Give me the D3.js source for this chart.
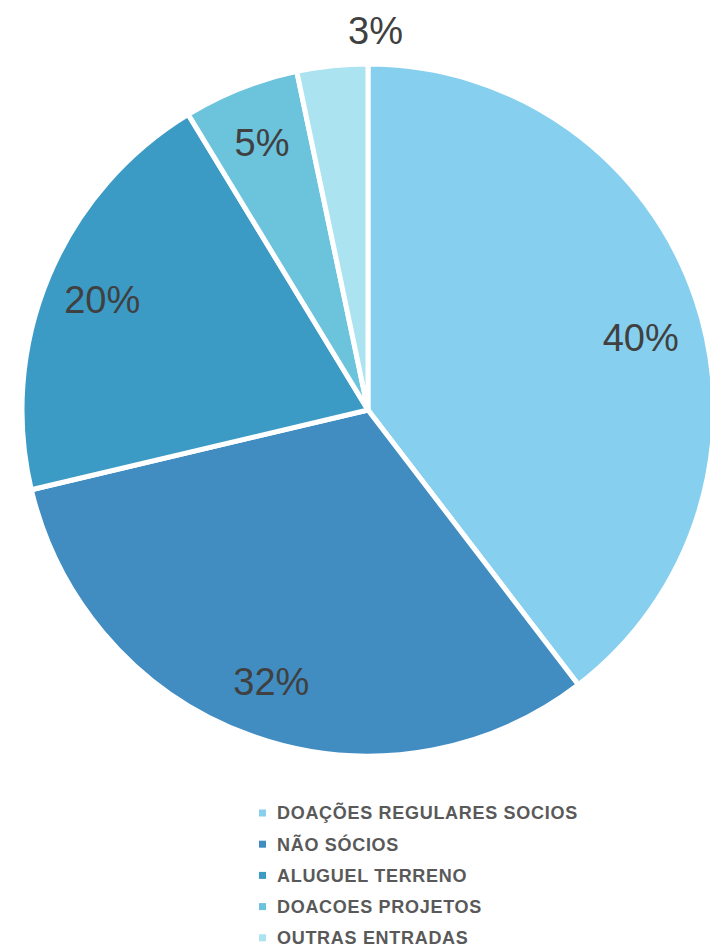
<!DOCTYPE html>
<html>
<head>
<meta charset="utf-8">
<script src="https://cdn.jsdelivr.net/npm/d3@7"></script>
<style>
  body { margin: 0; background: #fff; }
</style>
</head>
<body>
<div id="chart"></div>
<script>
// chart data (shares; labels as printed)
const categories = ["DOAÇÕES REGULARES SOCIOS", "NÃO SÓCIOS", "ALUGUEL TERRENO", "DOACOES PROJETOS", "OUTRAS ENTRADAS"];
const values = [39.6, 31.7, 20.0, 5.4, 3.3];
const labels = ["40%", "32%", "20%", "5%", "3%"];
const colors = ["#87cfee", "#418dc2", "#3c9bc5", "#6cc3dc", "#ace3f1"];

const width = 710, height = 947;
const cx = 368, cy = 410, radius = 346;

let svg = d3.select("#chart")
    .append("svg")
    .attr("width", width)
    .attr("height", height);

let g = svg.append("g")
    .attr("transform", `translate(${cx}, ${cy})`);

let pie = d3.pie().sort(null).value(function (d) { return d; });
let arcs = pie(values);

let arc = d3.arc().innerRadius(0).outerRadius(radius);

g.selectAll("path")
    .data(arcs)
    .enter()
    .append("path")
    .attr("d", arc)
    .attr("fill", function (d, i) { return colors[i]; })
    .attr("stroke", "#fff")
    .attr("stroke-width", 5)
    .attr("stroke-linejoin", "round");

// labels: inside for big slices, outside for the small one
let inner = d3.arc().innerRadius(288).outerRadius(288);
let outer = d3.arc().innerRadius(382).outerRadius(382);

g.selectAll("text.lbl")
    .data(arcs)
    .enter()
    .append("text")
    .attr("class", "lbl")
    .attr("transform", function (d) {
        let small = d.data < 4;
        let c = small ? outer.centroid(d) : inner.centroid(d);
        if (small) c[0] += 47;
        if (!small && d.index == 0) c[1] += 20;
        return `translate(${c[0]}, ${c[1]})`;
    })
    .attr("dy", "0.36em")
    .style("text-anchor", "middle")
    .style("font-family", "Liberation Sans, Arial, sans-serif")
    .style("font-size", "38px")
    .style("fill", "#404040")
    .text(function (d, i) { return labels[i]; });

// legend
let legend = svg.append("g")
    .attr("transform", "translate(259, 813)");

let rows = legend.selectAll("g")
    .data(categories)
    .enter()
    .append("g")
    .attr("transform", function (d, i) { return `translate(0, ${i * 31.2})`; });

rows.append("rect")
    .attr("x", 0)
    .attr("y", -3.5)
    .attr("width", 7)
    .attr("height", 7)
    .attr("fill", function (d, i) { return colors[i]; });

rows.append("text")
    .attr("x", 18)
    .attr("dy", "0.36em")
    .style("font-family", "Liberation Sans, Arial, sans-serif")
    .style("font-size", "18px")
    .style("font-weight", "bold")
    .style("letter-spacing", "0.7px")
    .style("fill", "#595959")
    .text(function (d) { return d; });
</script>
</body>
</html>
